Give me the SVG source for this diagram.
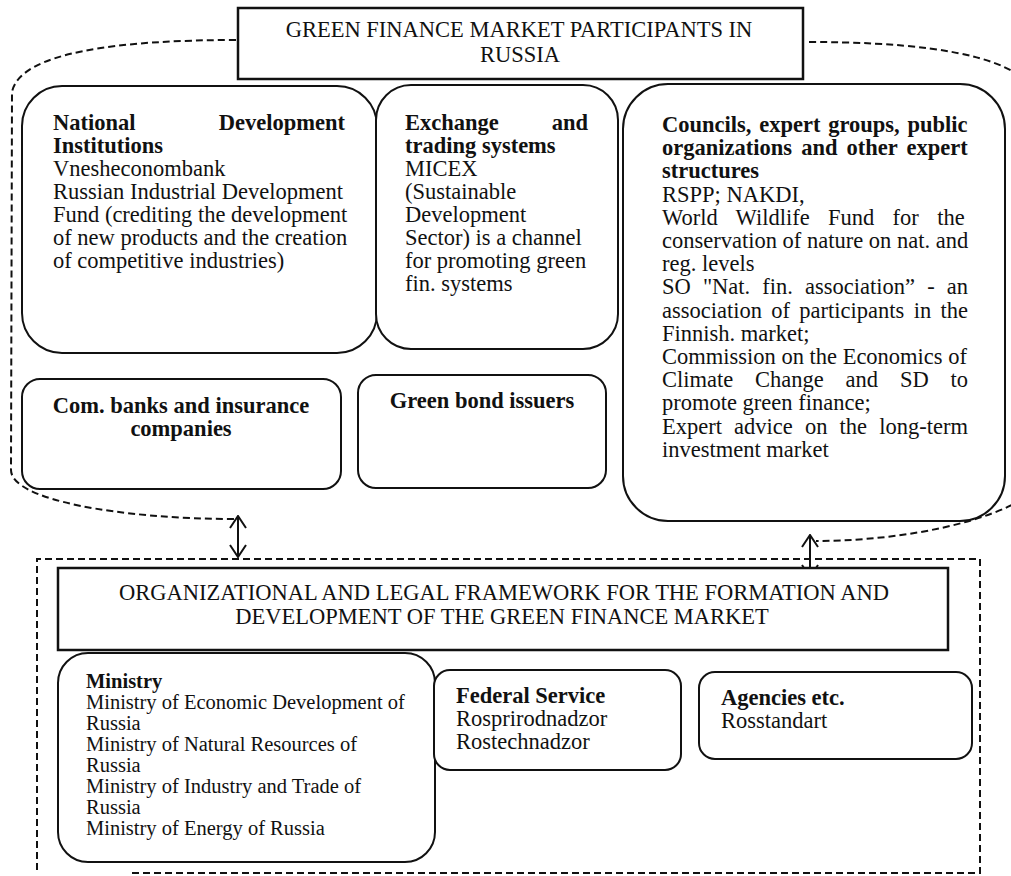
<svg xmlns="http://www.w3.org/2000/svg" width="1011" height="876" viewBox="0 0 1011 876">
<defs>
<style>
.box{fill:#fff;stroke:#111;stroke-width:2}
.hdr{fill:#fff;stroke:#111;stroke-width:2.5}
.dash{fill:none;stroke:#111;stroke-width:2;stroke-dasharray:7 4}
.arr{stroke:#111;stroke-width:2}
.t{font-family:"Liberation Serif","Times New Roman",serif;font-size:22.5px;fill:#111}
.b{font-weight:bold}
.s{font-size:20.5px}
.c{text-anchor:middle}
.e{text-anchor:end}
</style>
<marker id="ah" viewBox="0 0 14 18" refX="13" refY="9" markerWidth="14" markerHeight="18" markerUnits="userSpaceOnUse" orient="auto-start-reverse">
<path d="M1,1 L13,9 L1,17" fill="none" stroke="#111" stroke-width="2"/>
</marker>
</defs>
<rect width="1011" height="876" fill="#fff"/>

<g id="connectors">
<path class="dash" d="M236,40 C120,40 20,52 12,92 L11,470 C11,500 120,519 236,519"/>
<path class="dash" d="M809,42 C900,42 975,50 1012,71"/>
<path class="dash" d="M1012,505 C960,530 880,541 816,541"/>
<path class="dash" d="M37,870 V559 H980 V873 H130"/>
<line class="arr" x1="238" y1="516" x2="238" y2="557" marker-start="url(#ah)" marker-end="url(#ah)"/>
<line class="arr" x1="810" y1="535" x2="810" y2="577" marker-start="url(#ah)" marker-end="url(#ah)"/>
</g>

<g id="title">
<rect class="hdr" x="238" y="8" width="565" height="71"/>
<text class="t c" x="519" y="37">GREEN FINANCE MARKET PARTICIPANTS IN</text>
<text class="t c" x="520" y="62">RUSSIA</text>
</g>

<g id="national">
<rect class="box" x="22" y="86" width="355" height="267" rx="40"/>
<text class="t b"><tspan x="53" y="130">National</tspan><tspan class="e" x="345" y="130">Development</tspan></text>
<text class="t b" x="53" y="153">Institutions</text>
<text class="t" x="53" y="176">Vnesheconombank</text>
<text class="t" x="53" y="199">Russian Industrial Development</text>
<text class="t" x="53" y="222">Fund (crediting the development</text>
<text class="t" x="53" y="245">of new products and the creation</text>
<text class="t" x="53" y="268">of competitive industries)</text>
</g>

<g id="exchange">
<rect class="box" x="376" y="85" width="242" height="264" rx="35"/>
<text class="t b"><tspan x="405" y="130">Exchange</tspan><tspan class="e" x="588" y="130">and</tspan></text>
<text class="t b" x="405" y="153">trading systems</text>
<text class="t" x="405" y="176">MICEX</text>
<text class="t" x="405" y="199">(Sustainable</text>
<text class="t" x="405" y="222">Development</text>
<text class="t" x="405" y="245">Sector) is a channel</text>
<text class="t" x="405" y="268">for promoting green</text>
<text class="t" x="405" y="291">fin. systems</text>
</g>

<g id="councils">
<rect class="box" x="623" y="84" width="382" height="437" rx="45"/>
<text class="t b" x="662" y="132" word-spacing="2.2">Councils, expert groups, public</text>
<text class="t b" x="662" y="155.2" word-spacing="3.5">organizations and other expert</text>
<text class="t b" x="662" y="178.4">structures</text>
<text class="t" x="662" y="201.6">RSPP; NAKDI,</text>
<text class="t" x="662" y="224.8" word-spacing="12.7">World Wildlife Fund for the</text>
<text class="t" x="662" y="248">conservation of nature on nat. and</text>
<text class="t" x="662" y="271.2">reg. levels</text>
<text class="t" x="662" y="294.4" word-spacing="6.5">SO "Nat. fin. association” - an</text>
<text class="t" x="662" y="317.6" word-spacing="3.7">association of participants in the</text>
<text class="t" x="662" y="340.8">Finnish. market;</text>
<text class="t" x="662" y="364">Commission on the Economics of</text>
<text class="t" x="662" y="387.2" word-spacing="16.2">Climate Change and SD to</text>
<text class="t" x="662" y="410.4">promote green finance;</text>
<text class="t" x="662" y="433.6" word-spacing="6.5">Expert advice on the long-term</text>
<text class="t" x="662" y="456.8">investment market</text>
</g>

<g id="banks">
<rect class="box" x="22" y="379" width="319" height="110" rx="18"/>
<text class="t b c" x="181" y="413">Com. banks and insurance</text>
<text class="t b c" x="181" y="436">companies</text>
</g>

<g id="bonds">
<rect class="box" x="358" y="375" width="248" height="113" rx="18"/>
<text class="t b c" x="482" y="408">Green bond issuers</text>
</g>

<g id="framework">
<rect class="hdr" x="58" y="568" width="890" height="82"/>
<text class="t c" x="504" y="600">ORGANIZATIONAL  AND LEGAL FRAMEWORK FOR THE FORMATION AND</text>
<text class="t c" x="502" y="624">DEVELOPMENT OF THE GREEN FINANCE MARKET</text>
</g>

<g id="ministry">
<rect class="box" x="58" y="653" width="377" height="209" rx="30"/>
<text class="t s b" x="86" y="688">Ministry</text>
<text class="t s" x="86" y="709">Ministry of Economic Development of</text>
<text class="t s" x="86" y="730">Russia</text>
<text class="t s" x="86" y="751">Ministry of Natural Resources of</text>
<text class="t s" x="86" y="772">Russia</text>
<text class="t s" x="86" y="793">Ministry of Industry and Trade of</text>
<text class="t s" x="86" y="814">Russia</text>
<text class="t s" x="86" y="835">Ministry of Energy of Russia</text>
</g>

<g id="federal">
<rect class="box" x="434" y="670" width="247" height="100" rx="16"/>
<text class="t b" x="456" y="703">Federal Service</text>
<text class="t" x="456" y="726">Rosprirodnadzor</text>
<text class="t" x="456" y="749">Rostechnadzor</text>
</g>

<g id="agencies">
<rect class="box" x="699" y="672" width="273" height="87" rx="16"/>
<text class="t b" x="721" y="705">Agencies etc.</text>
<text class="t" x="721" y="728">Rosstandart</text>
</g>
</svg>
